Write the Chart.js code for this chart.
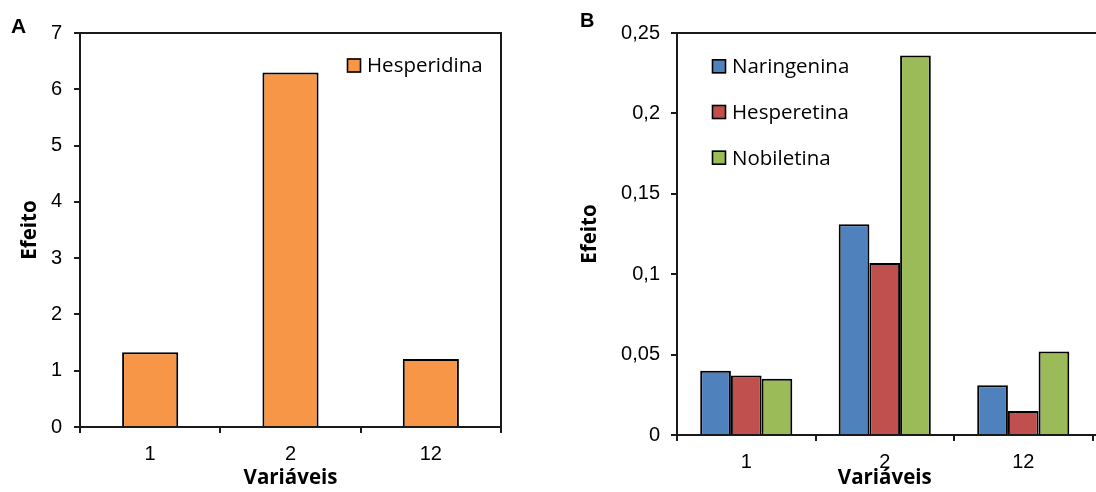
<!DOCTYPE html>
<html>
<head>
<meta charset="utf-8">
<script src="https://cdn.jsdelivr.net/npm/chart.js@4.4.1/dist/chart.umd.min.js"></script>
<style>
  html, body { margin: 0; padding: 0; background: #fff; overflow: hidden; }
  #wrap { position: relative; width: 1096px; height: 492px; }
  .panel { position: absolute; top: 0; height: 492px; }
  .letter { position: absolute; font-family: "Liberation Sans", Arial, sans-serif; font-weight: bold; line-height: 1; color: #000; }
</style>
</head>
<body>
<div id="wrap">
  <div class="panel" style="left:0;width:545px"><canvas id="chartA"></canvas></div>
  <div class="panel" style="left:560px;width:536px"><canvas id="chartB"></canvas></div>
  <div class="letter" style="left:11px;top:15px;font-size:21px">A</div>
  <div class="letter" style="left:580px;top:10px;font-size:20px">B</div>
</div>
<script>
// categories (x axis) shared by both panels
var categories = ["1", "2", "12"];

// panel A
var hesperidina = [1.33, 6.3, 1.21];

// panel B
var naringenina = [0.040, 0.131, 0.031];
var hesperetina = [0.037, 0.107, 0.015];
var nobiletina  = [0.035, 0.236, 0.052];

var yMaxA = 7, yStepA = 1;
var yMaxB = 0.25, yStepB = 0.05;

var lineColor = "#1a1a1a";
var tickFont = { family: "'Liberation Sans', Arial, sans-serif", size: 20, lineHeight: 1.1 };
var titleFont = { family: "'Open Sans', sans-serif", size: 20.5, weight: "bold", lineHeight: 1.2 };

// legend drawn inside the plot area (boxes + labels)
var boxLegend = {
    id: "boxLegend",
    afterDraw: function (chart, args, opts) {
        var ctx = chart.ctx;
        ctx.save();
        ctx.font = opts.font;
        ctx.textBaseline = "middle";
        chart.data.datasets.forEach(function (ds, i) {
            var y = opts.y + i * opts.rowGap;
            ctx.fillStyle = ds.backgroundColor;
            ctx.fillRect(opts.x, y - 7, 14, 14);
            ctx.strokeStyle = "#000";
            ctx.lineWidth = 1.6;
            ctx.strokeRect(opts.x + 0.5, y - 6.5, 13, 13);
            ctx.fillStyle = "#000";
            ctx.fillText(ds.label, opts.x + 20, y + 1);
        });
        ctx.restore();
    }
};

// top (and right) border of the plot area
var plotFrame = {
    id: "plotFrame",
    afterDraw: function (chart, args, opts) {
        var a = chart.chartArea, ctx = chart.ctx;
        var right = opts.toEdge ? chart.width : a.right;
        ctx.save();
        ctx.strokeStyle = lineColor;
        ctx.lineWidth = 2;
        ctx.beginPath();
        ctx.moveTo(a.left, a.top);
        ctx.lineTo(right, a.top);
        if (opts.toEdge) {
            ctx.moveTo(a.right, a.bottom);
            ctx.lineTo(right, a.bottom);
        } else {
            ctx.lineTo(a.right, a.bottom);
        }
        ctx.stroke();
        ctx.restore();
    }
};

var commaFormat = function (v) {
    return String(Math.round(v * 100) / 100).replace(".", ",");
};

var makeScales = function (yMax, yStep, yWidth, xHeight, yPad, fmt, hideLastTick) {
    return {
        x: {
            afterFit: function (s) { s.height = xHeight; },
            border: { color: lineColor, width: 2 },
            grid: {
                offset: true,
                drawOnChartArea: false,
                tickLength: 6,
                lineWidth: 2,
                tickColor: function (c) {
                    return (hideLastTick && c.index === categories.length) ? "rgba(0,0,0,0)" : lineColor;
                }
            },
            ticks: { color: "#000", font: tickFont, padding: 10 },
            title: { display: true, text: "Variáveis", color: "#000", font: titleFont, padding: { top: 0, bottom: 2 } }
        },
        y: {
            min: 0,
            max: yMax,
            afterFit: function (s) { s.width = yWidth; },
            border: { color: lineColor, width: 2 },
            grid: { drawOnChartArea: false, tickLength: 6, lineWidth: 2, tickColor: lineColor },
            ticks: { stepSize: yStep, color: "#000", font: tickFont, padding: yPad, callback: fmt },
            title: { display: true, text: "Efeito", color: "#000", font: titleFont, padding: { top: 18, bottom: 0 } }
        }
    };
};

Chart.defaults.animation = false;

new Chart(document.getElementById("chartA"), {
    type: "bar",
    data: {
        labels: categories,
        datasets: [{
            label: "Hesperidina",
            data: hesperidina,
            backgroundColor: "#F79646",
            borderColor: "#000",
            borderWidth: 2,
            barPercentage: 1,
            categoryPercentage: 0.4
        }]
    },
    options: {
        responsive: true,
        maintainAspectRatio: false,
        layout: { padding: { top: 33, right: 44, bottom: 0, left: 0 } },
        plugins: {
            legend: { display: false },
            tooltip: { enabled: false },
            boxLegend: { x: 347, y: 65.5, rowGap: 0, font: "20.5px 'Open Sans', sans-serif" },
            plotFrame: { toEdge: false }
        },
        scales: makeScales(yMaxA, yStepA, 80, 65, 12, function (v) { return v; }, false)
    },
    plugins: [boxLegend, plotFrame]
});

new Chart(document.getElementById("chartB"), {
    type: "bar",
    data: {
        labels: categories,
        datasets: [
            { label: "Naringenina", data: naringenina, backgroundColor: "#4F81BD" },
            { label: "Hesperetina", data: hesperetina, backgroundColor: "#C0504D" },
            { label: "Nobiletina", data: nobiletina, backgroundColor: "#9BBB59" }
        ].map(function (ds) {
            ds.borderColor = "#000";
            ds.borderWidth = 2;
            ds.barPercentage = 1;
            ds.categoryPercentage = 0.665;
            return ds;
        })
    },
    options: {
        responsive: true,
        maintainAspectRatio: false,
        layout: { padding: { top: 33, right: 3.5, bottom: 0, left: 0 } },
        plugins: {
            legend: { display: false },
            tooltip: { enabled: false },
            boxLegend: { x: 152, y: 66.3, rowGap: 45.7, font: "20.5px 'Open Sans', sans-serif" },
            plotFrame: { toEdge: true }
        },
        scales: makeScales(yMaxB, yStepB, 117, 57, 11, commaFormat, true)
    },
    plugins: [boxLegend, plotFrame]
});
</script>
</body>
</html>
